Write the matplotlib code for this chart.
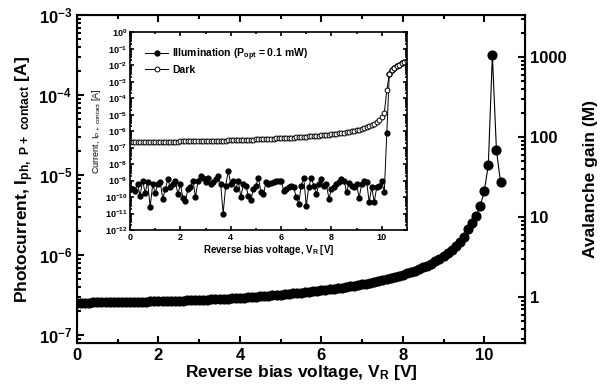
import numpy as np
import matplotlib
matplotlib.use('Agg')
import matplotlib.pyplot as plt
import matplotlib.ticker as ticker

plt.rcParams['font.family'] = ['Liberation Sans', 'DejaVu Sans']
plt.rcParams['font.weight'] = 'bold'
plt.rcParams['mathtext.fontset'] = 'custom'
plt.rcParams['mathtext.rm'] = 'Liberation Sans:bold'
plt.rcParams['mathtext.bf'] = 'Liberation Sans:bold'
plt.rcParams['mathtext.default'] = 'regular'

# main plot: photocurrent vs reverse bias, 0.1 V steps from 0 V (units of 1e-7 A)
i_ph_e7 = [
    2.55, 2.55, 2.56, 2.56, 2.57, 2.57, 2.58, 2.58, 2.59, 2.59,
    2.60, 2.60, 2.61, 2.61, 2.62, 2.62, 2.63, 2.63, 2.64, 2.64,
    2.65, 2.66, 2.67, 2.68, 2.69, 2.70, 2.71, 2.72, 2.73, 2.74,
    2.75, 2.77, 2.78, 2.80, 2.82, 2.83, 2.85, 2.87, 2.88, 2.90,
    2.92, 2.94, 2.97, 3.00, 3.03, 3.06, 3.09, 3.12, 3.15, 3.18,
    3.22, 3.26, 3.30, 3.34, 3.38, 3.42, 3.46, 3.50, 3.55, 3.60,
    3.65, 3.70, 3.76, 3.82, 3.88, 3.94, 4.01, 4.08, 4.16, 4.24,
    4.33, 4.42, 4.52, 4.63, 4.75, 4.88, 5.02, 5.17, 5.33, 5.50,
    5.70, 5.92, 6.16, 6.42, 6.72, 7.05, 7.42, 7.85, 8.35, 8.95,
    9.7, 10.6, 11.7, 13.0, 14.8, 17.0, 21, 25, 31, 41,
    63, 133, 3160, 205, 82,
]
gain_ref = 3.0e-7  # photocurrent at unity gain

# inset: dark current, 0.1 V steps 0..11 V
dark_e7 = [
    2.3, 2.3, 2.3, 2.3, 2.3, 2.3, 2.3, 2.3, 2.3, 2.3,
    2.35, 2.35, 2.35, 2.35, 2.35, 2.35, 2.35, 2.35, 2.35, 2.35,
    2.4, 2.4, 2.4, 2.4, 2.45, 2.45, 2.45, 2.5, 2.5, 2.5,
    2.55, 2.55, 2.6, 2.6, 2.6, 2.65, 2.65, 2.7, 2.7, 2.75,
    2.8, 2.8, 2.85, 2.9, 2.9, 2.95, 3.0, 3.0, 3.05, 3.1,
    3.15, 3.2, 3.25, 3.3, 3.35, 3.4, 3.45, 3.5, 3.6, 3.65,
    3.7, 3.8, 3.85, 3.95, 4.0, 4.1, 4.2, 4.3, 4.4, 4.5,
    4.6, 4.75, 4.9, 5.0, 5.2, 5.35, 5.5, 5.7, 5.9, 6.1,
    6.3, 6.6, 6.9, 7.2, 7.6, 8.0, 8.5, 9.0, 9.6, 10.3,
    11.2, 12.3, 13.6, 15.2, 17.5, 20, 24, 29, 37, 50,
    72, 130,
]
dark_tail = [3e-4, 3e-3, 5e-3, 7e-3, 9e-3, 1.1e-2, 1.3e-2, 1.5e-2, 1.7e-2]

# inset: illuminated current (units of 1e-10 A), 0..10.1 V
illum_e10 = [
    3.5, 3, 2.5, 6, 1.2, 10, 1.8, 8, 0.25, 6,
    1.8, 6, 8, 0.8, 3, 12, 4, 6, 10, 1.5,
    6, 0.9, 0.6, 3, 4, 10, 1, 10, 20, 15,
    8, 15, 6, 8, 12, 20, 6, 0.1, 5, 40,
    6, 10, 3, 10, 1, 6, 5, 1.2, 0.7, 3,
    5, 15, 2, 1.5, 8, 6, 7, 8, 9, 9,
    10, 2.5, 3, 4, 5, 4, 1, 0.4, 5, 15,
    0.3, 4, 15, 5, 1.5, 6, 12, 5, 6, 0.8,
    3, 4, 6, 8, 12, 10, 2, 7, 5, 4,
    6, 0.9, 6, 9, 8, 0.5, 4, 0.5, 4, 5,
    9, 2,
]
illum_tail = [8e-7, 3e-3, 5e-3, 7e-3, 9e-3, 1.1e-2, 1.3e-2, 1.5e-2, 1.7e-2]

i_ph = np.array(i_ph_e7) * 1e-7
v_main = np.arange(len(i_ph)) * 0.1
dark = np.concatenate([np.array(dark_e7) * 1e-7, dark_tail])
v_dark = np.arange(len(dark)) * 0.1
illum = np.concatenate([np.array(illum_e10) * 1e-10, illum_tail])
v_illum = np.arange(len(illum)) * 0.1


def style_ticks(ax, size, lw):
    ax.tick_params(which='both', direction='in', top=True, width=lw)
    ax.tick_params(which='major', length=size)
    ax.tick_params(which='minor', length=size * 0.55)
    for s in ax.spines.values():
        s.set_linewidth(lw)


fig = plt.figure(figsize=(6.02, 3.88), dpi=100)
ax = fig.add_axes([0.128, 0.116, 0.744, 0.845])
ax.plot(v_main, i_ph, 'o-', color='black', markersize=6.3, linewidth=0.8)
ax.set_yscale('log')
ax.set_xlim(0, 11)
ax.set_ylim(8e-8, 1e-3)
ax.xaxis.set_major_locator(ticker.MultipleLocator(2))
ax.xaxis.set_minor_locator(ticker.MultipleLocator(1))
ax.yaxis.set_major_locator(ticker.LogLocator(base=10, numticks=10))
ax.yaxis.set_minor_locator(ticker.LogLocator(base=10, subs=np.arange(2, 10), numticks=10))
ax.yaxis.set_minor_formatter(ticker.NullFormatter())
style_ticks(ax, 5, 1.5)
ax.tick_params(labelsize=12, right=False)
ax.set_xlabel('Reverse bias voltage, V$_\\mathregular{R}$ [V]', fontsize=12.5, fontweight='bold', labelpad=0)
ax.set_ylabel('Photocurrent, I$_\\mathregular{ph,\\ P+\\ contact}$ [A]', fontsize=12.5, fontweight='bold', labelpad=2)

ax2 = ax.twinx()
ax2.set_yscale('log')
ax2.set_ylim(8e-8 / gain_ref, 1e-3 / gain_ref)
ax2.yaxis.set_major_locator(ticker.FixedLocator([1, 10, 100, 1000]))
ax2.yaxis.set_major_formatter(ticker.FuncFormatter(lambda y, _: f'{y:g}'))
ax2.yaxis.set_minor_locator(ticker.LogLocator(base=10, subs=np.arange(2, 10), numticks=10))
ax2.yaxis.set_minor_formatter(ticker.NullFormatter())
ax2.tick_params(which='both', direction='in', width=1.5, labelsize=12)
ax2.tick_params(which='major', length=5)
ax2.tick_params(which='minor', length=2.8)
ax2.set_ylabel('Avalanche gain (M)', fontsize=12.5, fontweight='bold', labelpad=12)

# inset
ins = fig.add_axes([0.216, 0.407, 0.460, 0.510])
ins.plot(v_illum, illum, 'o-', color='black', markersize=3.5, linewidth=0.7,
         label='Illumination (P$_\\mathregular{opt}$ = 0.1 mW)')
ins.plot(v_dark, dark, 'o-', color='black', markerfacecolor='white', markersize=3.5,
         markeredgewidth=0.7, linewidth=0.7, label='Dark')
ins.set_yscale('log')
ins.set_xlim(0, 11)
ins.set_ylim(1e-12, 1)
ins.xaxis.set_major_locator(ticker.MultipleLocator(2))
ins.xaxis.set_minor_locator(ticker.MultipleLocator(1))
ins.yaxis.set_major_locator(ticker.FixedLocator([10.0 ** k for k in range(-12, 1)]))
ins.yaxis.set_minor_locator(ticker.LogLocator(base=10, subs=np.arange(2, 10), numticks=20))
ins.yaxis.set_minor_formatter(ticker.NullFormatter())
style_ticks(ins, 3, 1.2)
ins.tick_params(which='both', right=True, labelsize=6.5, pad=2)
ins.set_xlabel('Reverse bias voltage, V$_\\mathregular{R}$ [V]', fontsize=7, fontweight='bold', labelpad=1)
ins.set_ylabel('Current, I$_\\mathregular{P+\\ contact}$ [A]', fontsize=6.5, fontweight='normal', labelpad=1)
ins.legend(loc='upper left', bbox_to_anchor=(0.04, 0.95), frameon=False, fontsize=7.5,
           handlelength=2.2, handletextpad=0.4, labelspacing=0.2, borderaxespad=0)

fig.savefig('out.png', dpi=100)
